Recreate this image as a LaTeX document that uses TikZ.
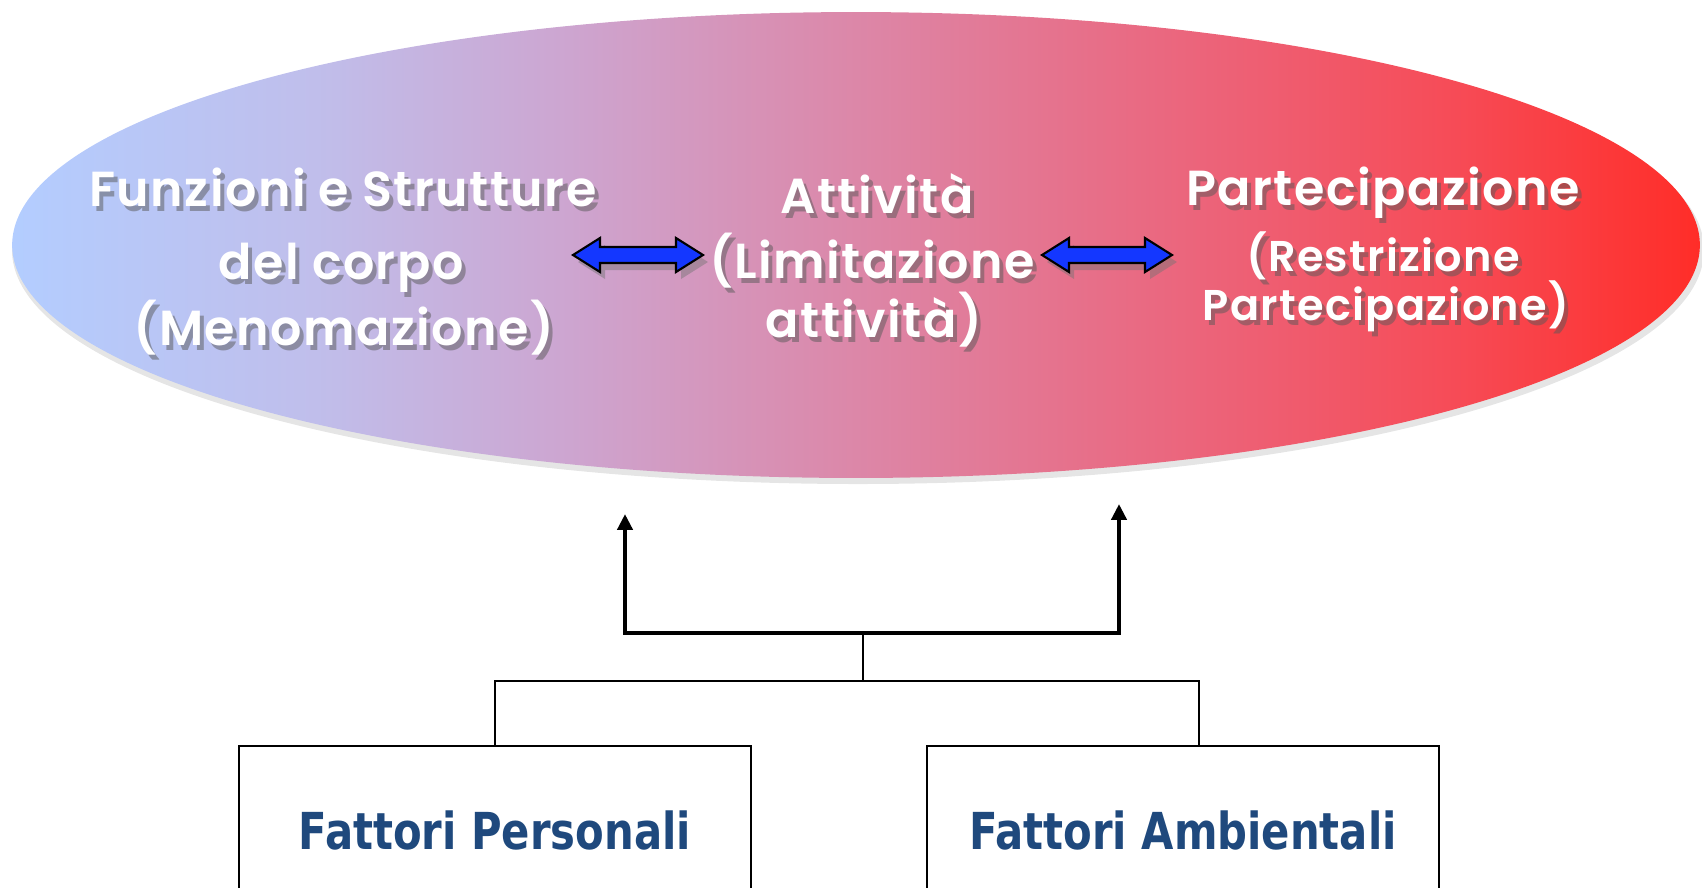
\documentclass[tikz,border=0pt]{standalone}
\usepackage{fontspec}
\usetikzlibrary{arrows.meta,positioning,calc,shapes.geometric}
\newfontfamily\comicfont{Poppins}[UprightFont={* SemiBold}, LetterSpace=3]
\newfontfamily\boxfont{DejaVu Sans}[FakeStretch=0.82]
\definecolor{icfblue}{RGB}{31,73,125}
\definecolor{arrowblue}{RGB}{20,55,255}
\definecolor{sh0}{RGB}{179,205,255}
\definecolor{sh1}{RGB}{192,190,235}
\definecolor{sh2}{RGB}{205,165,208}
\definecolor{sh3}{RGB}{220,135,168}
\definecolor{sh4}{RGB}{234,104,128}
\definecolor{sh5}{RGB}{246,76,88}
\definecolor{sh6}{RGB}{255,45,40}
% the path fills the middle of the shading, 25bp to 75bp
\pgfdeclarehorizontalshading{icfband}{100bp}{color(0bp)=(sh0); color(25bp)=(sh0); color(34bp)=(sh1); color(41.5bp)=(sh2); color(50bp)=(sh3); color(59bp)=(sh4); color(67.5bp)=(sh5); color(75bp)=(sh6); color(100bp)=(sh6)}
% white text with a grey shadow behind it
\newcommand{\shd}[1]{\rlap{\kern2.3pt\raisebox{-2.85pt}{\pgfsetfillopacity{0.5}\color{black!65}#1\pgfsetfillopacity{1}}}#1}

\begin{document}
\begin{tikzpicture}[x=0.02cm, y=-0.02cm,
  lbl/.style={anchor=base, text=white, inner sep=0, font=\comicfont\fontsize{28}{28}\selectfont},
  small lbl/.style={lbl, font=\comicfont\fontsize{24.5}{24.5}\selectfont},
  fbox/.style={draw, line width=1.1pt, minimum width=10.24cm, minimum height=3.36cm, inner sep=0,
    font=\boxfont\bfseries\fontsize{29}{29}\selectfont, text=icfblue},
  link/.style={line width=1.1pt},
  thick arrow/.style={-{Triangle[length=9pt, width=8.5pt]}, line width=2.5pt},
  dblarrow/.pic={\path[pic actions] (-65,0) -- (-38,-17) -- (-38,-8) -- (38,-8) -- (38,-17)
    -- (65,0) -- (38,17) -- (38,8) -- (-38,8) -- (-38,17) -- cycle;}]
\useasboundingbox (0,0) rectangle (1702,887);
\clip (0,0) rectangle (1702,887);
% band
\fill[black, opacity=.1] (858,250) ellipse [x radius=846, y radius=234];
\node[ellipse, minimum width=33.76cm, minimum height=9.32cm, inner sep=0, shading=icfband] (band) at (856,245) {};
\node[lbl] (fun1) at (343,206) {\shd{Funzioni e Strutture}};
\node[lbl] (fun2) at (341,279) {\shd{del corpo}};
\node[lbl] (fun3) at (344,345) {\shd{(Menomazione)}};
\node[lbl] (att1) at (877,213) {\shd{Attività}};
\node[lbl] (att2) at (872,278) {\shd{(Limitazione}};
\node[lbl] (att3) at (874,337) {\shd{attività)}};
\node[lbl] (par1) at (1383,205) {\shd{Partecipazione}};
\node[small lbl] (par2) at (1383,271) {\shd{(Restrizione}};
\node[small lbl] (par3) at (1386,320) {\shd{Partecipazione)}};
\pic[fill=black!55, opacity=.45] at (643,262) {dblarrow};
\pic[draw=black, fill=arrowblue, line width=1.2pt] (arrL) at (638,255) {dblarrow};
\pic[fill=black!55, opacity=.45] at (1112,262) {dblarrow};
\pic[draw=black, fill=arrowblue, line width=1.2pt] (arrR) at (1107,255) {dblarrow};
% factors
\node[fbox] (pers) at (495,830) {Fattori Personali};
\node[fbox] (amb) at (1183,830) {Fattori Ambientali};
\coordinate (tipL) at (625,514);
\coordinate (tipR) at (1119,504);
\coordinate (fork) at (863,633);
\coordinate (split) at (863,681);
\draw[link] (pers.north) |- (split);
\draw[link] ($(amb.north)+(16,0)$) |- (split);
\draw[link] (split) -- (fork);
\draw[thick arrow] (fork) -| (tipL);
\draw[thick arrow] (fork) -| (tipR);
\end{tikzpicture}
\end{document}
